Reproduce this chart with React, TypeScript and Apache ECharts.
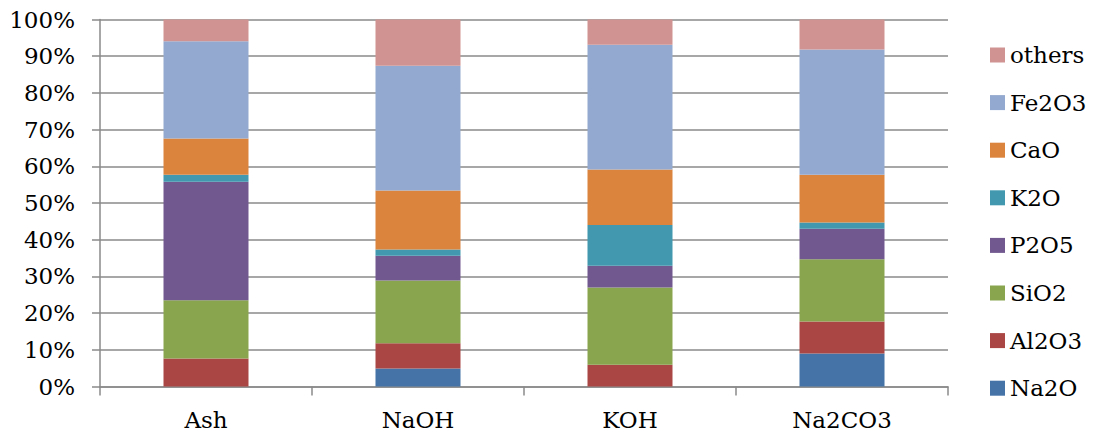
import React, { useEffect, useRef } from "react";
import * as echarts from "echarts";

const categories = ["Ash", "NaOH", "KOH", "Na2CO3"];
const seriesNames = ["Na2O", "Al2O3", "SiO2", "P2O5", "K2O", "CaO", "Fe2O3", "others"];
const na2o = [0, 4.9, 0, 9.0];
const al2o3 = [7.6, 6.9, 5.9, 8.7];
const sio2 = [15.9, 17.1, 21.1, 17.0];
const p2o5 = [32.3, 6.7, 5.9, 8.3];
const k2o = [1.9, 1.7, 11.1, 1.7];
const cao = [9.9, 16.1, 15.1, 13.0];
const fe2o3 = [26.5, 34.0, 34.0, 34.1];
const others = [5.9, 12.6, 6.9, 8.2];
const seriesValues = [na2o, al2o3, sio2, p2o5, k2o, cao, fe2o3, others];
const colors = ["#4572A7", "#AA4643", "#89A54E", "#71588F", "#4198AF", "#DB843D", "#93A9CF", "#D19392"];
const yTicks = { min: 0, max: 100, interval: 10 };

const FONT = "DejaVu Serif";
const FS = 23;

export default function App() {
  const ref = useRef<HTMLDivElement>(null);
  useEffect(() => {
    if (!ref.current) return;
    const chart = echarts.init(ref.current, undefined, { renderer: "svg" });
    chart.setOption({
      animation: false,
      color: colors,
      grid: { left: 100, right: 147, top: 19.5, bottom: 50.5 },
      legend: {
        orient: "vertical",
        left: 990,
        top: 43.5,
        padding: 0,
        itemWidth: 15,
        itemHeight: 15,
        itemGap: 24.6,
        icon: "rect",
        data: seriesNames.slice().reverse(),
        textStyle: { fontFamily: FONT, fontSize: FS, color: "#000" },
      },
      xAxis: {
        type: "category",
        data: categories,
        axisLine: { lineStyle: { color: "#8a8a8a", width: 1.5 } },
        axisTick: { show: true, length: 9, lineStyle: { color: "#8a8a8a", width: 1.5 } },
        axisLabel: { fontFamily: FONT, fontSize: FS, color: "#000", margin: 22 },
      },
      yAxis: {
        type: "value",
        min: yTicks.min,
        max: yTicks.max,
        interval: yTicks.interval,
        axisLine: { show: true, lineStyle: { color: "#8a8a8a", width: 1.5 } },
        axisTick: { show: true, length: 8, lineStyle: { color: "#8a8a8a", width: 1.5 } },
        splitLine: { lineStyle: { color: "#8a8a8a", width: 1.5 } },
        axisLabel: { fontFamily: FONT, fontSize: FS, color: "#000", margin: 25, formatter: "{value}%" },
      },
      series: seriesNames.map((name, i) => ({
        name,
        type: "bar",
        stack: "total",
        barWidth: 85,
        data: seriesValues[i],
        itemStyle: { color: colors[i] },
      })),
    });
    return () => chart.dispose();
  }, []);
  return (
    <div
      ref={ref}
      style={{ position: "fixed", left: 0, top: 0, width: 1095, height: 437, background: "#fff" }}
    />
  );
}
